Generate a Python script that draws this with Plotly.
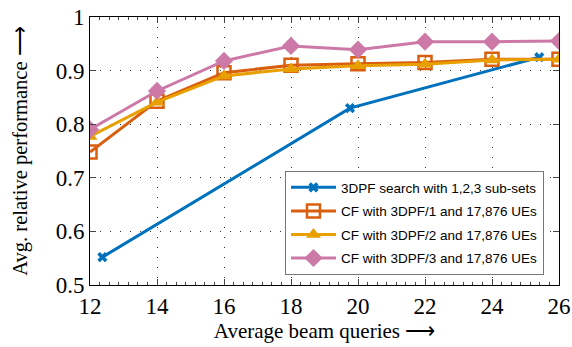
import plotly.graph_objects as go

# Data
blue_x = [12.37, 19.76, 25.41]
blue_y = [0.552, 0.830, 0.925]

cf_x = [12, 14, 16, 18, 20, 22, 24, 26]
cf1_y = [0.748, 0.843, 0.896, 0.910, 0.913, 0.915, 0.921, 0.921]
cf2_y = [0.777, 0.841, 0.890, 0.903, 0.909, 0.912, 0.920, 0.921]
cf3_y = [0.790, 0.862, 0.918, 0.946, 0.939, 0.954, 0.954, 0.955]

names = ["3DPF search with 1,2,3 sub-sets",
         "CF with 3DPF/1 and 17,876 UEs",
         "CF with 3DPF/2 and 17,876 UEs",
         "CF with 3DPF/3 and 17,876 UEs"]

x_ticks = [12, 14, 16, 18, 20, 22, 24, 26]
y_ticks = [0.5, 0.6, 0.7, 0.8, 0.9, 1.0]
y_tick_text = ["0.5", "0.6", "0.7", "0.8", "0.9", "1"]

BLUE = "#0072BD"
ORANGE = "#D95F0E"
YELLOW = "#E8A000"
PINK = "#CC79A7"

fig = go.Figure()
fig.add_trace(go.Scatter(x=blue_x, y=blue_y, name=names[0], mode="lines+markers",
                         legendgroup="a",
                         line=dict(color=BLUE, width=3),
                         marker=dict(symbol="x", size=9, color=BLUE)))
fig.add_trace(go.Scatter(x=cf_x, y=cf1_y, name=names[1], mode="lines+markers",
                         legendgroup="b",
                         line=dict(color=ORANGE, width=3),
                         marker=dict(symbol="square-open", size=13, color=ORANGE,
                                     line=dict(width=2.5, color=ORANGE))))
fig.add_trace(go.Scatter(x=cf_x, y=cf2_y, name=names[2], mode="lines+markers",
                         legendgroup="c",
                         line=dict(color=YELLOW, width=3),
                         marker=dict(symbol="triangle-up", size=13, color=YELLOW)))
fig.add_trace(go.Scatter(x=cf_x, y=cf3_y, name=names[3], mode="lines+markers",
                         legendgroup="d",
                         line=dict(color=PINK, width=3),
                         marker=dict(symbol="diamond", size=14, color=PINK)))

axis_common = dict(showline=True, linecolor="black", linewidth=1, mirror="ticks",
                   ticks="inside", ticklen=6, tickcolor="#444", tickwidth=1,
                   showgrid=True, gridcolor="#333", gridwidth=1, griddash="1px,9px",
                   zeroline=False, automargin=False,
                   tickfont=dict(family="Liberation Serif", size=23, color="black"))

fig.update_xaxes(range=[12, 26], tickvals=x_ticks,
                 title=dict(text="Average beam queries ⟶", font=dict(family="Liberation Serif", size=21, color="black"), standoff=1),
                 minor=dict(ticks="inside", ticklen=3, tickcolor="#444", dtick=2/7, tick0=12, showgrid=False),
                 **axis_common)
fig.update_yaxes(range=[0.5, 1.0], tickvals=y_ticks, ticktext=y_tick_text,
                 title=dict(text="Avg. relative performance ⟶", font=dict(family="Liberation Serif", size=20.5, color="black"), standoff=22),
                 **axis_common)

fig.update_layout(
    width=572, height=347,
    margin=dict(l=90, r=13, t=17, b=62),
    paper_bgcolor="white", plot_bgcolor="white",
    showlegend=True,
    legend=dict(x=0.968, y=0.037, xanchor="right", yanchor="bottom",
                bgcolor="white", bordercolor="#777", borderwidth=1,
                font=dict(family="Liberation Sans", size=13.5, color="black"),
                itemwidth=45, tracegroupgap=3),
)

fig.write_html("out.html", config={"displayModeBar": False},
               post_script="document.body.style.margin='0px';document.body.style.overflow='hidden';")
